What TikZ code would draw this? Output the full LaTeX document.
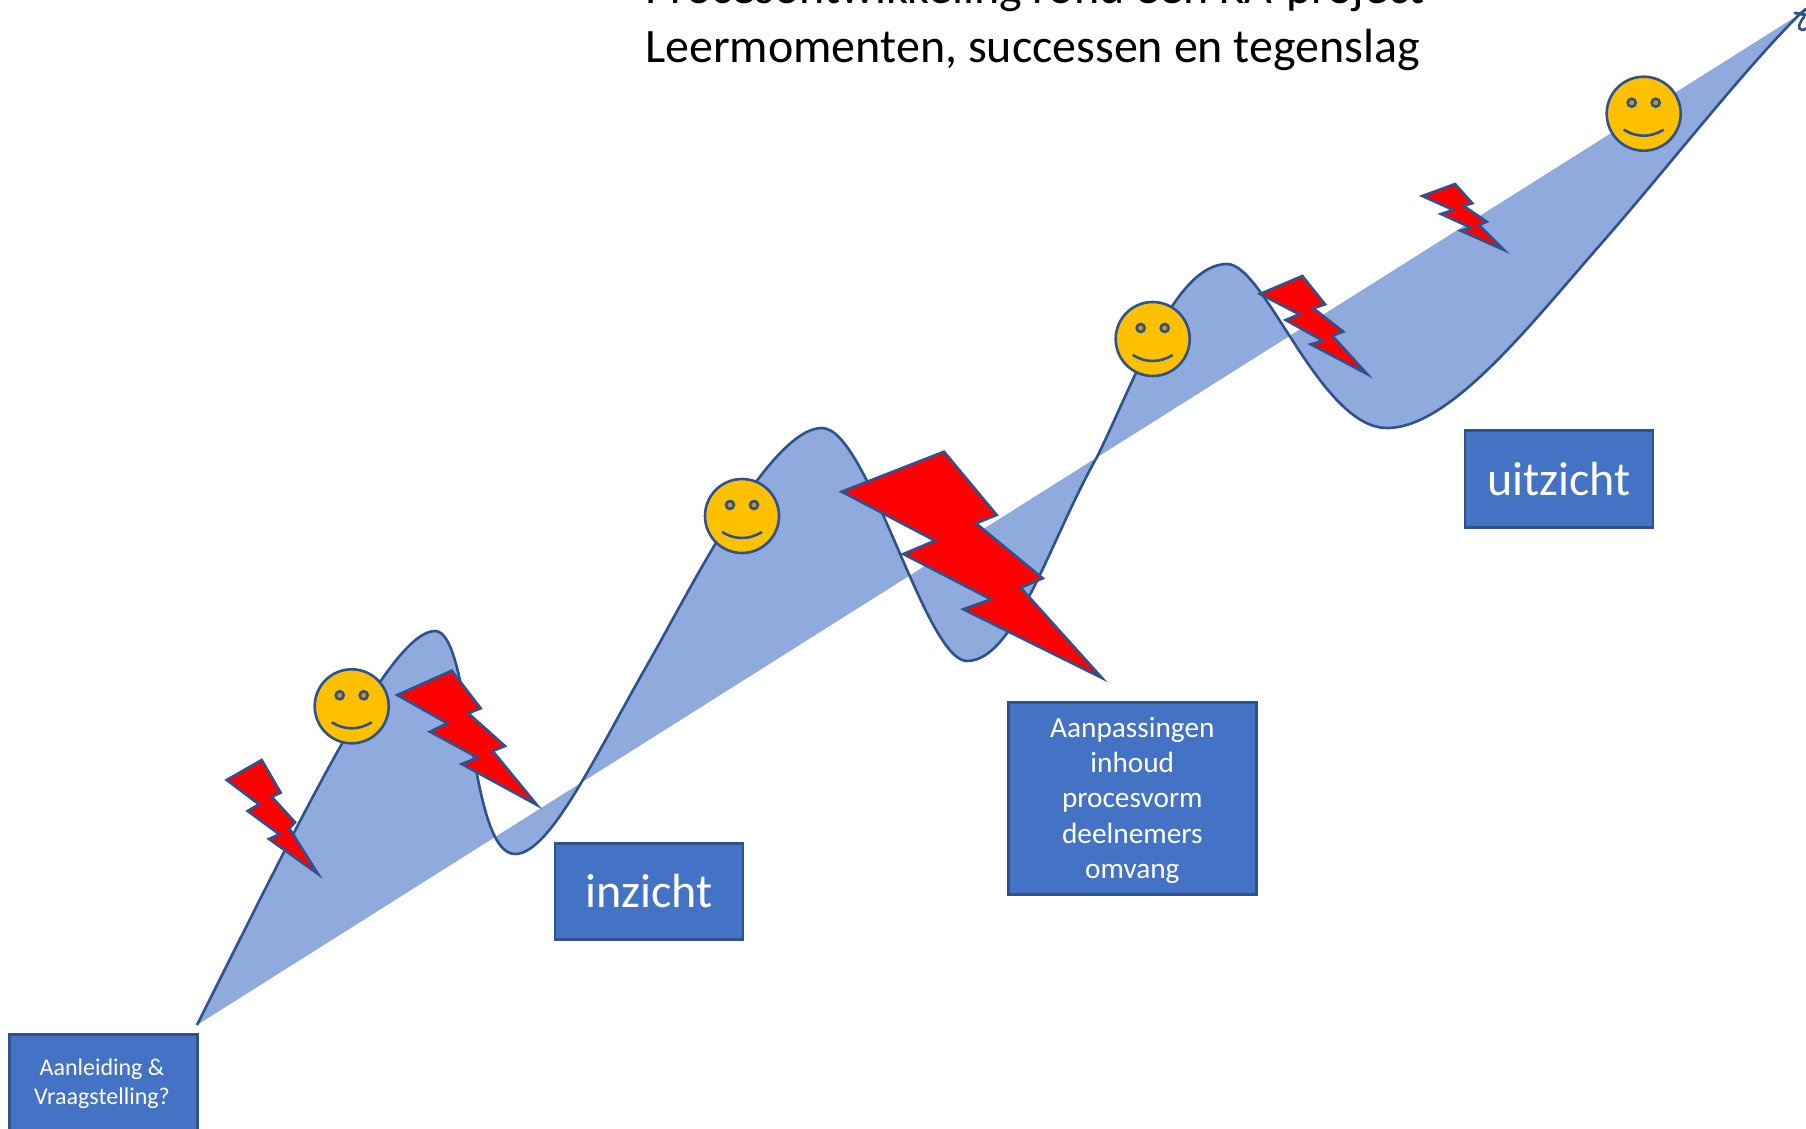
\documentclass[tikz,border=0pt]{standalone}
\usepackage{fontspec}
\setmainfont{Carlito}
\definecolor{bluefill}{HTML}{8FAADC}
\definecolor{blueline}{HTML}{2F528F}
\definecolor{boxfill}{HTML}{4472C4}
\definecolor{smilefill}{HTML}{FFC000}
\definecolor{eyefill}{HTML}{CC9A00}
\tikzset{
  bolt/.style={draw=blueline,fill=red,line width=2.6pt,line join=miter},
  labelbox/.style={draw=blueline,fill=boxfill,line width=2.6pt,text=white,align=center,inner sep=0pt},
  smiley/.pic={
    \draw[blueline,fill=smilefill,line width=2.6pt] (0,0) circle[radius=37];
    \draw[blueline,fill=eyefill,line width=2.6pt] (-12,-11) circle[radius=4] (12,-11) circle[radius=4];
    \draw[blueline,line width=2.6pt] (-20,16) .. controls (-7,24) and (7,24) .. (20,16);
  }
}
\newcommand{\curvepath}{(197,1025)
  .. controls (300,820) and (390,631) .. (435,631)
  .. controls (472,631) and (468,854) .. (515,854)
  .. controls (550,854) and (595,756) .. (650,660)
  .. controls (690,590) and (770,428) .. (822,428)
  .. controls (868,428) and (925,661) .. (967,661)
  .. controls (1015,661) and (1050,540) .. (1097,457)
  .. controls (1135,380) and (1175,264) .. (1227,264)
  .. controls (1265,264) and (1320,428) .. (1387,428)
  .. controls (1450,428) and (1530,325) .. (1600,245)
  .. controls (1665,171) and (1745,68) .. (1800,14)}
\begin{document}
\begin{tikzpicture}[x=1pt,y=-1pt]
\useasboundingbox (0,0) rectangle (1806,1129);
\clip (0,0) rectangle (1806,1129);
% ribbon
\fill[bluefill] \curvepath -- cycle;
\draw[blueline,line width=2.6pt] \curvepath;
% arrowhead at the end of the curve, cut by the page edge
\coordinate (tip) at (1800,14);
\draw[blueline,line width=3pt,line cap=round] (1795,13) -- (1806,15);
\draw[blueline,line width=3pt,line cap=round] (tip) -- (1806,9);
\draw[blueline,line width=2.6pt,line cap=round] (1804,17) .. controls (1799,23) and (1797,29) .. (1802,30) .. controls (1804,30) and (1806,29) .. (1808,27);
% title
\node[font=\fontsize{48}{58}\selectfont,anchor=base] (title2) at (1032.6,63) {Leermomenten, successen en tegenslag};
\node[font=\fontsize{48}{58}\selectfont,anchor=base] (title1) at (1035,4) {Procesontwikkeling rond een KA-project};
% boxes
\node[labelbox,minimum width=188pt,minimum height=110pt,anchor=north west] (aan) at (8,1033) {};
\node[white,font=\fontsize{24}{29}\selectfont,align=center,anchor=base,inner sep=0pt] (aantext) at (102,1104) {Aanleiding \&\\Vraagstelling?};
\node[labelbox,minimum width=188pt,minimum height=96pt,anchor=north west,font=\fontsize{48}{58}\selectfont] (inz) at (553.5,842) {inzicht};
\node[labelbox,minimum width=248pt,minimum height=192pt,anchor=north west,font=\fontsize{29.3}{35.3}\selectfont] (aanp) at (1007,701) {\rule{0pt}{24pt}Aanpassingen\\inhoud\\procesvorm\\deelnemers\\omvang};
\node[labelbox,minimum width=188pt,minimum height=97pt,anchor=north west,font=\fontsize{48}{58}\selectfont] (uit) at (1463.5,429) {uitzicht};
% smileys
\pic (s1) at (351.7,706.3) {smiley};
\pic (s2) at (742,516) {smiley};
\pic (s3) at (1152.7,339) {smiley};
\pic (s4) at (1643.7,113.7) {smiley};
% lightning bolts
\draw[bolt] (226.7,780) -- (261.7,760) -- (280.7,792.7) -- (271.7,796.7) -- (295,822.3) -- (289.3,828.3) -- (318,874) -- (269,839) -- (279.3,834.3) -- (247.7,811) -- (259,804.3) -- cycle;
\draw[bolt] (397.3,695) -- (451.7,670.7) -- (480.7,708.3) -- (468.3,713.3) -- (505,746) -- (492.7,751) -- (537,805) -- (461.7,764) -- (477.7,757.7) -- (430,731.7) -- (447.3,723.3) -- cycle;
\draw[bolt] (841.7,491.7) -- (944,451.7) -- (996.7,515) -- (976,523.3) -- (1042.7,578.3) -- (1020.7,587.7) -- (1102,678) -- (963.3,609.3) -- (991,599.3) -- (903.3,554) -- (935,540.7) -- cycle;
\draw[bolt] (1260,294) -- (1302.3,276) -- (1325,304.3) -- (1313.3,308.3) -- (1343.3,331.7) -- (1332.3,335.7) -- (1367,374) -- (1310.7,344.3) -- (1322.7,340.7) -- (1285.7,320) -- (1299.3,314.3) -- cycle;
\draw[bolt] (1422.3,196) -- (1455,184) -- (1472.3,203.3) -- (1463.3,205.7) -- (1486.7,221.7) -- (1479,225) -- (1504,250) -- (1460.7,230.7) -- (1471,227.7) -- (1441,214) -- (1453.3,210) -- cycle;
\end{tikzpicture}
\end{document}
